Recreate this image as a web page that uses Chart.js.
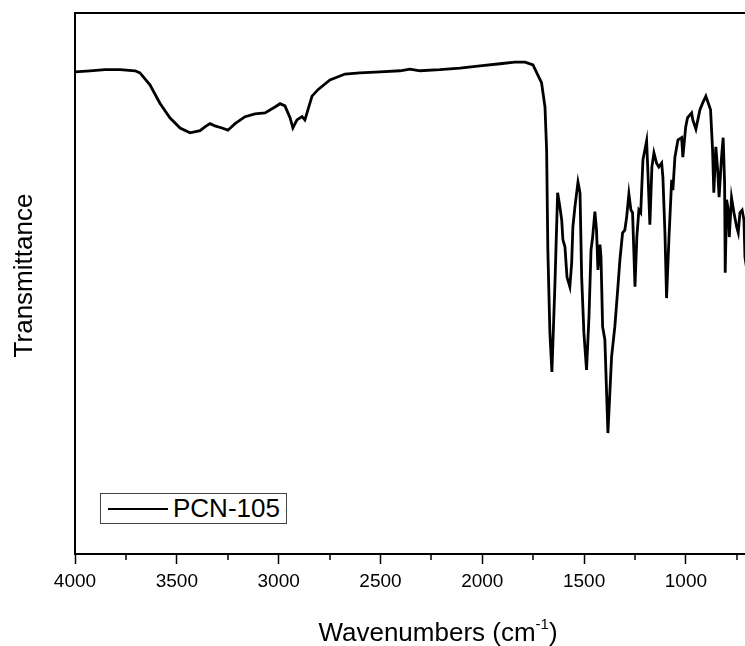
<!DOCTYPE html>
<html>
<head>
<meta charset="utf-8">
<script src="https://cdn.jsdelivr.net/npm/chart.js@4/dist/chart.umd.min.js"></script>
<style>
  html, body { margin: 0; padding: 0; background: #fff; overflow: hidden; }
  #wrap { position: relative; width: 750px; height: 646px; }
  #legend {
    position: absolute; left: 100px; top: 493px; width: 185px; height: 29px;
    border: 1px solid #444; background: #fff;
    font-family: "Liberation Sans", Arial, sans-serif; font-size: 26px; color: #000;
    display: flex; align-items: center;
  }
  #legend .swatch { width: 60px; height: 0; border-top: 2.8px solid #000; margin: 0 5px 0 7px; }
</style>
</head>
<body>
<div id="wrap">
  <canvas id="chart" width="750" height="646"></canvas>
  <div id="legend"><span class="swatch"></span><span>PCN-105</span></div>
</div>
<script>
// PCN-105 FTIR spectrum
const wavenumbers = [
  4000, 3926, 3853, 3779, 3705, 3681, 3632, 3583, 3534, 3484, 3435, 3386, 3362, 3337, 3313, 3278,
  3249, 3214, 3165, 3116, 3067, 3018, 2993, 2969, 2944, 2930, 2910, 2885, 2871, 2856, 2836, 2807,
  2748, 2674, 2601, 2502, 2404, 2355, 2306, 2208, 2110, 2011, 1913, 1840, 1790, 1751, 1727, 1709,
  1692, 1684, 1678, 1668, 1658, 1643, 1630, 1619, 1610, 1604, 1594, 1584, 1570, 1561, 1555, 1545,
  1530, 1520, 1512, 1501, 1488, 1476, 1466, 1458, 1447, 1439, 1432, 1422, 1417, 1409, 1398, 1383,
  1365, 1349, 1335, 1324, 1311, 1300, 1291, 1280, 1270, 1262, 1250, 1241, 1231, 1222, 1211, 1193,
  1187, 1177, 1167, 1157, 1144, 1133, 1119, 1113, 1103, 1095, 1083, 1070, 1064, 1054, 1039, 1021,
  1015, 1001, 992, 972, 966, 951, 931, 918, 902, 890, 879, 869, 863, 853, 844, 837,
  825, 817, 810, 807, 800, 792, 787, 776, 764, 751, 743, 735, 724, 715, 710, 700
];
const transmittance = [
  88.9, 89.1, 89.3, 89.3, 89.1, 88.7, 86.5, 83.1, 80.4, 78.5, 77.6, 78.0, 78.7, 79.3, 78.9, 78.5,
  78.1, 79.3, 80.6, 81.1, 81.3, 82.4, 83.0, 82.6, 80.4, 78.5, 80.0, 80.6, 80.0, 81.9, 84.4, 85.6,
  87.4, 88.5, 88.7, 88.9, 89.1, 89.4, 89.1, 89.3, 89.6, 90.0, 90.4, 90.7, 90.7, 90.2, 88.3, 86.9,
  82.4, 74.4, 55.9, 40.6, 33.3, 49.8, 66.5, 63.9, 61.5, 57.8, 56.5, 50.9, 49.1, 53.5, 60.2, 63.9,
  68.5, 66.5, 50.9, 40.6, 33.7, 43.5, 55.9, 58.3, 63.0, 59.6, 52.2, 56.9, 54.6, 41.7, 39.3, 22.0,
  36.1, 41.7, 48.5, 54.1, 59.1, 59.6, 62.0, 66.3, 63.3, 62.8, 49.1, 58.3, 63.3, 62.8, 72.6, 76.1,
  70.7, 60.6, 71.3, 73.9, 72.0, 71.3, 72.0, 69.4, 59.1, 47.0, 58.3, 68.9, 67.0, 73.1, 76.3, 76.7,
  73.1, 78.7, 80.4, 81.3, 80.0, 78.3, 81.9, 83.1, 84.4, 83.1, 81.9, 74.4, 66.5, 75.0, 70.7, 65.7,
  73.1, 76.7, 68.3, 51.7, 65.2, 63.3, 58.3, 65.6, 62.8, 60.2, 59.1, 62.8, 63.3, 61.5, 54.6, 52.0
];
const majorTicks = [4000, 3500, 3000, 2500, 2000, 1500, 1000];
const minorTicks = [3750, 3250, 2750, 2250, 1750, 1250, 750];
const xRange = [700, 4000];

const FONT = '"Liberation Sans", Arial, sans-serif';

const framePlugin = {
  id: 'frame',
  afterDraw(chart) {
    const { ctx, chartArea } = chart;
    const x = chart.scales.x;
    ctx.save();
    ctx.strokeStyle = '#000';
    // top border
    ctx.lineWidth = 2;
    ctx.beginPath();
    ctx.moveTo(chartArea.left, chartArea.top);
    ctx.lineTo(chartArea.right, chartArea.top);
    ctx.stroke();
    // minor ticks
    ctx.lineWidth = 1.5;
    minorTicks.forEach(v => {
      const px = Math.round(x.getPixelForValue(v));
      ctx.beginPath();
      ctx.moveTo(px, chartArea.bottom);
      ctx.lineTo(px, chartArea.bottom + 6);
      ctx.stroke();
    });
    // axis titles
    ctx.fillStyle = '#000';
    const big = '26px ' + FONT, small = '15px ' + FONT;
    ctx.textBaseline = 'alphabetic';
    const main = 'Wavenumbers (cm';
    const sup = '-1';
    const close = ')';
    ctx.font = big;
    const w1 = ctx.measureText(main).width;
    const w3 = ctx.measureText(close).width;
    ctx.font = small;
    const w2 = ctx.measureText(sup).width;
    const total = w1 + w2 + w3;
    const tx = (chartArea.left + chartArea.right) / 2 + 27 - total / 2;
    const ty = 641;
    ctx.font = big;
    ctx.fillText(main, tx, ty);
    ctx.fillText(close, tx + w1 + w2, ty);
    ctx.font = small;
    ctx.fillText(sup, tx + w1, ty - 12);

    ctx.font = big;
    ctx.translate(32, (chartArea.top + chartArea.bottom) / 2 - 8);
    ctx.rotate(-Math.PI / 2);
    ctx.textAlign = 'center';
    ctx.fillText('Transmittance', 0, 0);
    ctx.restore();
  }
};

new Chart(document.getElementById('chart'), {
  type: 'line',
  data: {
    datasets: [{
      label: 'PCN-105',
      data: wavenumbers.map((w, i) => ({ x: w, y: transmittance[i] })),
      borderColor: '#000',
      borderWidth: 2.8,
      pointRadius: 0,
      tension: 0,
      fill: false
    }]
  },
  options: {
    responsive: false,
    animation: false,
    layout: { padding: { top: 13, right: 3, left: 0, bottom: 0 } },
    plugins: { legend: { display: false }, tooltip: { enabled: false } },
    scales: {
      x: {
        type: 'linear',
        reverse: true,
        min: xRange[0],
        max: xRange[1],
        afterBuildTicks(scale) {
          scale.ticks = majorTicks.map(v => ({ value: v }));
        },
        afterFit(scale) { scale.height = 92; },
        ticks: {
          color: '#000',
          font: { family: FONT, size: 19 },
          padding: 6,
          maxRotation: 0,
          autoSkip: false,
          callback: v => String(v)
        },
        grid: {
          drawOnChartArea: false,
          drawTicks: true,
          tickLength: 10,
          tickWidth: 1.5,
          tickColor: '#000'
        },
        border: { display: true, color: '#000', width: 2 }
      },
      y: {
        min: -0.4,
        max: 99.8,
        afterFit(scale) { scale.width = 75; },
        ticks: { display: false },
        grid: { display: false },
        border: { display: true, color: '#000', width: 2 }
      }
    }
  },
  plugins: [framePlugin]
});
</script>
</body>
</html>
